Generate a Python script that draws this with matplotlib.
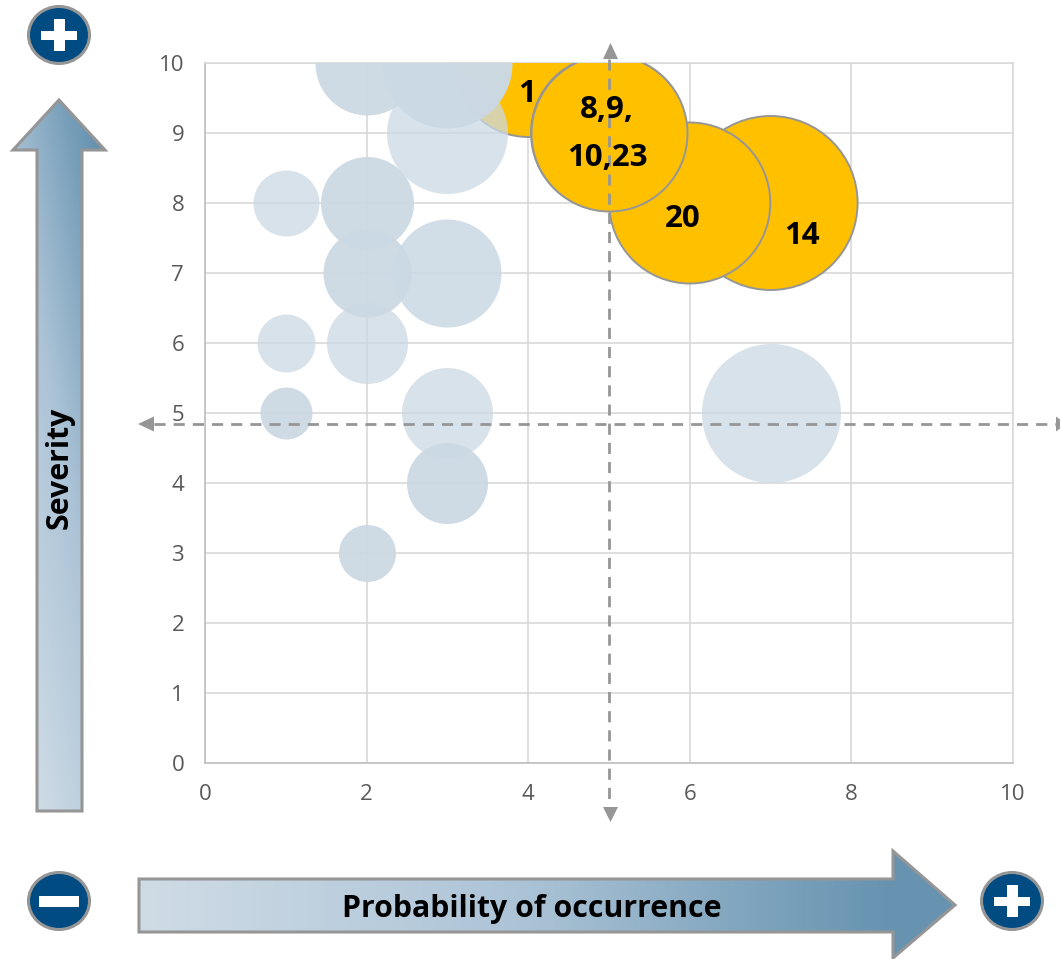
import matplotlib
matplotlib.use("Agg")
import matplotlib.pyplot as plt
import matplotlib.patches as mpatches
from matplotlib.colors import LinearSegmentedColormap
import numpy as np

plt.rcParams['font.family'] = ['Open Sans', 'DejaVu Sans']

# risks below the critical zone
low_x = [3, 2, 3, 1, 2, 2, 3, 1, 2, 1, 3, 3, 2, 7]
low_y = [9, 10, 10, 8, 8, 7, 7, 6, 6, 5, 5, 4, 3, 5]
low_size = [60.5, 52, 65, 33, 46.5, 44, 54, 29, 40.5, 26, 45.5, 40.5, 28.5, 69.5]
low_alpha = [.75, .94, .99, .75, .94, .94, .88, .75, .75, .94, .75, .94, .94, .75]

# critical risks, with the ids written on them
high_x = [7, 6, 4, 5]
high_y = [8, 8, 10, 9]
high_size = [87, 80.5, 74, 78]
high_names = ["14", "20", "1", "8,9,\n10,23"]
name_shift = [(31, -33), (-7, -16), (-1, -31), (-2, -1)]

x_ticks = [0, 2, 4, 6, 8, 10]
y_ticks = list(range(11))
cross_x = 5
cross_y = 4.85

W, H = 1060, 959
GREY = "#969696"
NAVY = "#004b82"

fig = plt.figure(figsize=(W / 100, H / 100), dpi=100)

# full size layer in pixels for the arrows and the +/- badges
bg = fig.add_axes([0, 0, 1, 1])
bg.set_axis_off()

ramp = LinearSegmentedColormap.from_list(
    "ramp", [(0, "#cfdce6"), (.5, "#adc4d7"), (.85, "#7aa1bb"), (1, "#6793b1")])


def gradient_arrow(points, t):
    poly = mpatches.Polygon(points, closed=True, fc="none", ec=GREY, lw=2.2, joinstyle="miter", zorder=3)
    bg.add_patch(poly)
    im = bg.imshow(t, cmap=ramp, vmin=0, vmax=1, extent=(0, W, H, 0), aspect="auto", zorder=2)
    clip = mpatches.Polygon(points, closed=True, transform=bg.transData)
    im.set_clip_path(clip)


px, py = np.meshgrid(np.arange(W) + .5, np.arange(H) + .5)

up_arrow = [(59, 100), (105, 150), (82, 150), (82, 811), (37, 811), (37, 150), (13, 150)]
gradient_arrow(up_arrow, np.clip(.72 * (811 - py) / 711 + .25 * (px - 37) / 45, 0, 1))

right_arrow = [(139, 879), (893, 879), (893, 851), (955, 905), (893, 958), (893, 932), (139, 932)]
gradient_arrow(right_arrow, np.clip((px - 139) / 754, 0, 1))


def badge(cx, cy, plus):
    bg.add_patch(mpatches.Ellipse((cx, cy), 61, 57, fc=NAVY, ec=GREY, lw=2.2, zorder=4))
    if plus:
        bg.add_patch(mpatches.Rectangle((cx - 18, cy - 4.5), 36, 9, fc="white", ec="none", zorder=5))
        bg.add_patch(mpatches.Rectangle((cx - 5.5, cy - 16), 11, 32, fc="white", ec="none", zorder=5))
    else:
        bg.add_patch(mpatches.Rectangle((cx - 20, cy - 5.5), 40, 11, fc="white", ec="none", zorder=5))


badge(59, 35, True)
badge(59, 901, False)
badge(1012, 901, True)

# heads of the dashed cross
bg.add_patch(mpatches.Polygon([(610.5, 43), (618, 59), (603, 59)], fc=GREY, ec="none", zorder=6))
bg.add_patch(mpatches.Polygon([(610.5, 822), (618, 807), (603, 807)], fc=GREY, ec="none", zorder=6))
bg.add_patch(mpatches.Polygon([(138, 424), (154, 416.5), (154, 431.5)], fc=GREY, ec="none", zorder=6))
bg.add_patch(mpatches.Polygon([(1066, 424), (1056, 416.5), (1056, 431.5)], fc=GREY, ec="none", zorder=6))

bg.set_xlim(0, W)
bg.set_ylim(H, 0)

bg.text(531.5, 909, "Probability of occurrence", fontsize=21.8, fontweight="bold",
        color="black", ha="center", va="center", zorder=7)
bg.text(60, 468, "Severity", fontsize=21.8, fontweight="bold", color="black",
        rotation=90, ha="center", va="center", zorder=7)

# the chart itself
ax = fig.add_axes([205 / W, 1 - 763 / H, 808 / W, 700 / H])
ax.set_facecolor("none")
ax.set_xlim(0, 10)
ax.set_ylim(0, 10)
ax.set_xticks(x_ticks)
ax.set_yticks(y_ticks)
ax.grid(True, color="#d9d9d9", lw=1.2)
ax.set_axisbelow(True)
ax.tick_params(length=0, labelsize=16, labelcolor="#595959")
ax.tick_params(axis="x", pad=15)
ax.tick_params(axis="y", pad=15)
for side in ["top", "right"]:
    ax.spines[side].set_color("#d9d9d9")
    ax.spines[side].set_linewidth(1.2)
for side in ["left", "bottom"]:
    ax.spines[side].set_color("#bfbfbf")
    ax.spines[side].set_linewidth(1.2)


def area(r):
    # radius in pixels to scatter area in points^2
    return (2 * r * .72) ** 2


ax.scatter(high_x, high_y, s=[area(r) for r in high_size], c="#ffc000",
           edgecolors=GREY, linewidths=1.4, zorder=3)

# blue bubbles sit on top of the yellow ones
for x, y, r, a in zip(low_x, low_y, low_size, low_alpha):
    ax.scatter(x, y, s=area(r), color="#cbd9e4", alpha=a, linewidths=0, zorder=4)

# yellow bubble 8,9,10,23 has to stay above its neighbours
ax.scatter(high_x[3], high_y[3], s=area(high_size[3]), c="#ffc000",
           edgecolors=GREY, linewidths=1.4, zorder=5)

dash = (0, (4.0, 2.9))
ax.plot([cross_x, cross_x], [10.06, -0.62], color=GREY, lw=2, ls=dash, clip_on=False, zorder=6)
ax.plot([-0.63, 10.7], [cross_y, cross_y], color=GREY, lw=2, ls=dash, clip_on=False, zorder=6)

for x, y, name, shift in zip(high_x, high_y, high_names, name_shift):
    ax.annotate(name, (x, y), xytext=shift, textcoords="offset pixels", fontsize=22.5,
                fontweight="bold", color="black", ha="center", va="center",
                linespacing=1.75, annotation_clip=False, zorder=7)

fig.savefig("out.png", dpi=100)
